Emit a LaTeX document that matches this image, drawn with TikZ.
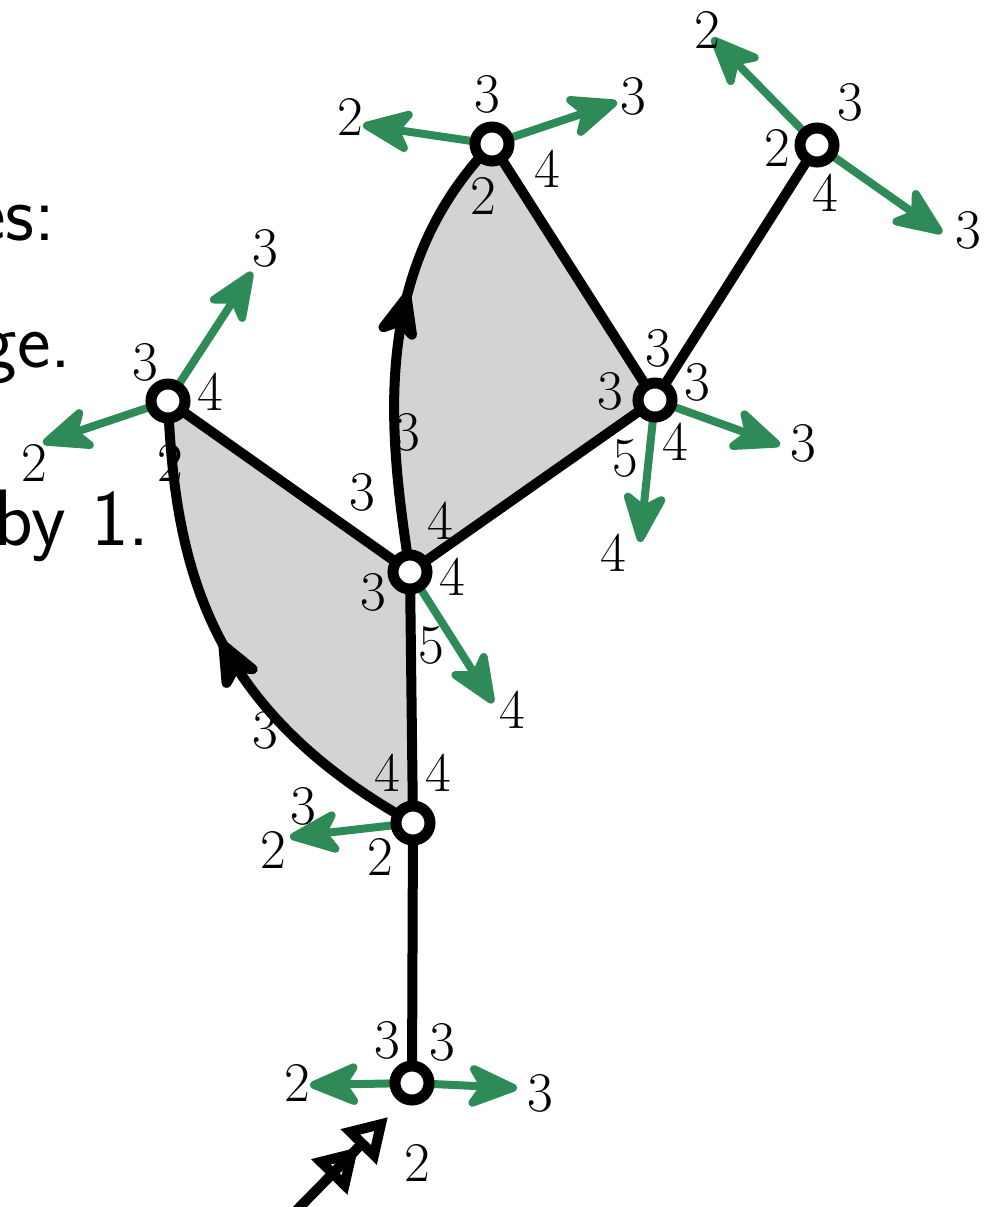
\documentclass[tikz,border=0pt]{standalone}
\usepackage{fontspec}
\usetikzlibrary{arrows.meta,decorations.markings}
\definecolor{edgegreen}{RGB}{46,139,87}
\definecolor{facegray}{RGB}{211,211,211}
\tikzset{
  vert/.style={circle, draw=black, fill=white, line width=5.5pt, minimum size=17pt, inner sep=0pt},
  edge/.style={draw=black, line width=5pt},
  garrow/.style={draw=edgegreen, line width=4pt, -{Stealth[length=30pt,width=25pt,inset=8pt,round]}},
  lab/.style={font=\fontsize{28}{30}\selectfont, inner sep=0pt},
  sidetext/.style={font=\sffamily\fontsize{40}{44}\selectfont, inner sep=0pt, anchor=base east},
  midarrow/.style={postaction={decorate, decoration={markings, mark=at position #1 with {\arrow{Stealth[length=30pt,width=25pt,inset=8pt,round]}}}}},
  face/.style={fill=facegray}
}
\begin{document}
\begin{tikzpicture}[x=0.5pt, y=-0.5pt]
\useasboundingbox (0,0) rectangle (987,1207);

% side text (cut off at the left)
\node[sidetext] (t1) at (56,240) {es:};
\node[sidetext] (t2) at (72,367) {ge.};
\node[sidetext] (t3) at (150,545) {by 1.};

% vertex positions
\coordinate (pA) at (412,1083);
\coordinate (pB) at (413,823);
\coordinate (pC) at (410,572);
\coordinate (pD) at (168,401);
\coordinate (pE) at (492,144);
\coordinate (pF) at (655,400);
\coordinate (pG) at (817,145);

% faces
\fill[face] (pD) -- (pC) -- (pB) .. controls (210,710) and (175,570) .. (pD) -- cycle;
\fill[face] (pC) .. controls (388,430) and (370,270) .. (pE) -- (pF) -- cycle;

% green arrow ends
\coordinate (aL) at (310,1085);
\coordinate (aR) at (517,1088);
\coordinate (bL) at (290,837);
\coordinate (cR) at (493,703);
\coordinate (dU) at (252,272);
\coordinate (dL) at (43,443);
\coordinate (eL) at (363,125);
\coordinate (eR) at (617,102);
\coordinate (fR) at (780,445);
\coordinate (fD) at (640,542);
\coordinate (gU) at (712,38);
\coordinate (gD) at (942,233);

% black edges
\draw[edge] (pA) -- (pB);
\draw[edge] (pB) -- (pC);
\draw[edge] (pC) -- (pD);
\draw[edge] (pC) -- (pF);
\draw[edge] (pE) -- (pF);
\draw[edge] (pF) -- (pG);
\draw[edge, midarrow=0.52] (pB) .. controls (210,710) and (175,570) .. (pD);
\draw[edge, midarrow=0.62] (pC) .. controls (388,430) and (370,270) .. (pE);

% green arrows
\draw[garrow] (pA) -- (aL);
\draw[garrow] (pA) -- (aR);
\draw[garrow] (pB) -- (bL);
\draw[garrow] (pC) -- (cR);
\draw[garrow] (pD) -- (dU);
\draw[garrow] (pD) -- (dL);
\draw[garrow] (pE) -- (eL);
\draw[garrow] (pE) -- (eR);
\draw[garrow] (pF) -- (fR);
\draw[garrow] (pF) -- (fD);
\draw[garrow] (pG) -- (gU);
\draw[garrow] (pG) -- (gD);

% vertices
\node[vert] (A) at (pA) {};
\node[vert] (B) at (pB) {};
\node[vert] (C) at (pC) {};
\node[vert] (D) at (pD) {};
\node[vert] (E) at (pE) {};
\node[vert] (F) at (pF) {};
\node[vert] (G) at (pG) {};

% start marker
\coordinate (st0) at (290,1217);
\coordinate (st1) at (388,1117);
\draw[line width=5pt, -{Triangle[open,length=21pt,width=24pt] Triangle[open,length=21pt,width=24pt]}] (st0) -- (st1);

% labels at A
\node[lab] (lA1) at (387,1040) {3};
\node[lab] (lA2) at (442,1042) {3};
\node[lab] (lA3) at (297,1083) {2};
\node[lab] (lA4) at (540,1093) {3};
\node[lab] (lA5) at (417,1163) {2};
% labels at B
\node[lab] (lB1) at (387,773) {4};
\node[lab] (lB2) at (438,773) {4};
\node[lab] (lB3) at (303,806) {3};
\node[lab] (lB4) at (273,850) {2};
\node[lab] (lB5) at (380,857) {2};
\node[lab] (lBD) at (265,730) {3};
% labels at C
\node[lab] (lC1) at (373,592) {3};
\node[lab] (lC2) at (452,577) {4};
\node[lab] (lC3) at (431,645) {5};
\node[lab] (lC4) at (440,521) {4};
\node[lab] (lC5) at (512,710) {4};
\node[lab] (lCD) at (362,492) {3};
\node[lab] (lCE) at (407,432) {3};
% labels at D
\node[lab] (lD1) at (145,362) {3};
\node[lab] (lD2) at (210,392) {4};
\node[lab] (lD3) at (170,463) {2};
\node[lab] (lD4) at (265,248) {3};
\node[lab] (lD5) at (34,463) {2};
% labels at E
\node[lab] (lE1) at (487,94) {3};
\node[lab] (lE2) at (547,169) {4};
\node[lab] (lE3) at (483,196) {2};
\node[lab] (lE4) at (350,117) {2};
\node[lab] (lE5) at (633,96) {3};
% labels at F
\node[lab] (lF1) at (658,348) {3};
\node[lab] (lF2) at (697,382) {3};
\node[lab] (lF3) at (610,391) {3};
\node[lab] (lF4) at (675,442) {4};
\node[lab] (lF5) at (625,458) {5};
\node[lab] (lF6) at (613,553) {4};
\node[lab] (lF7) at (803,443) {3};
% labels at G
\node[lab] (lG1) at (850,102) {3};
\node[lab] (lG2) at (777,148) {2};
\node[lab] (lG3) at (825,193) {4};
\node[lab] (lG4) at (707,30) {2};
\node[lab] (lG5) at (968,230) {3};
\end{tikzpicture}
\end{document}
